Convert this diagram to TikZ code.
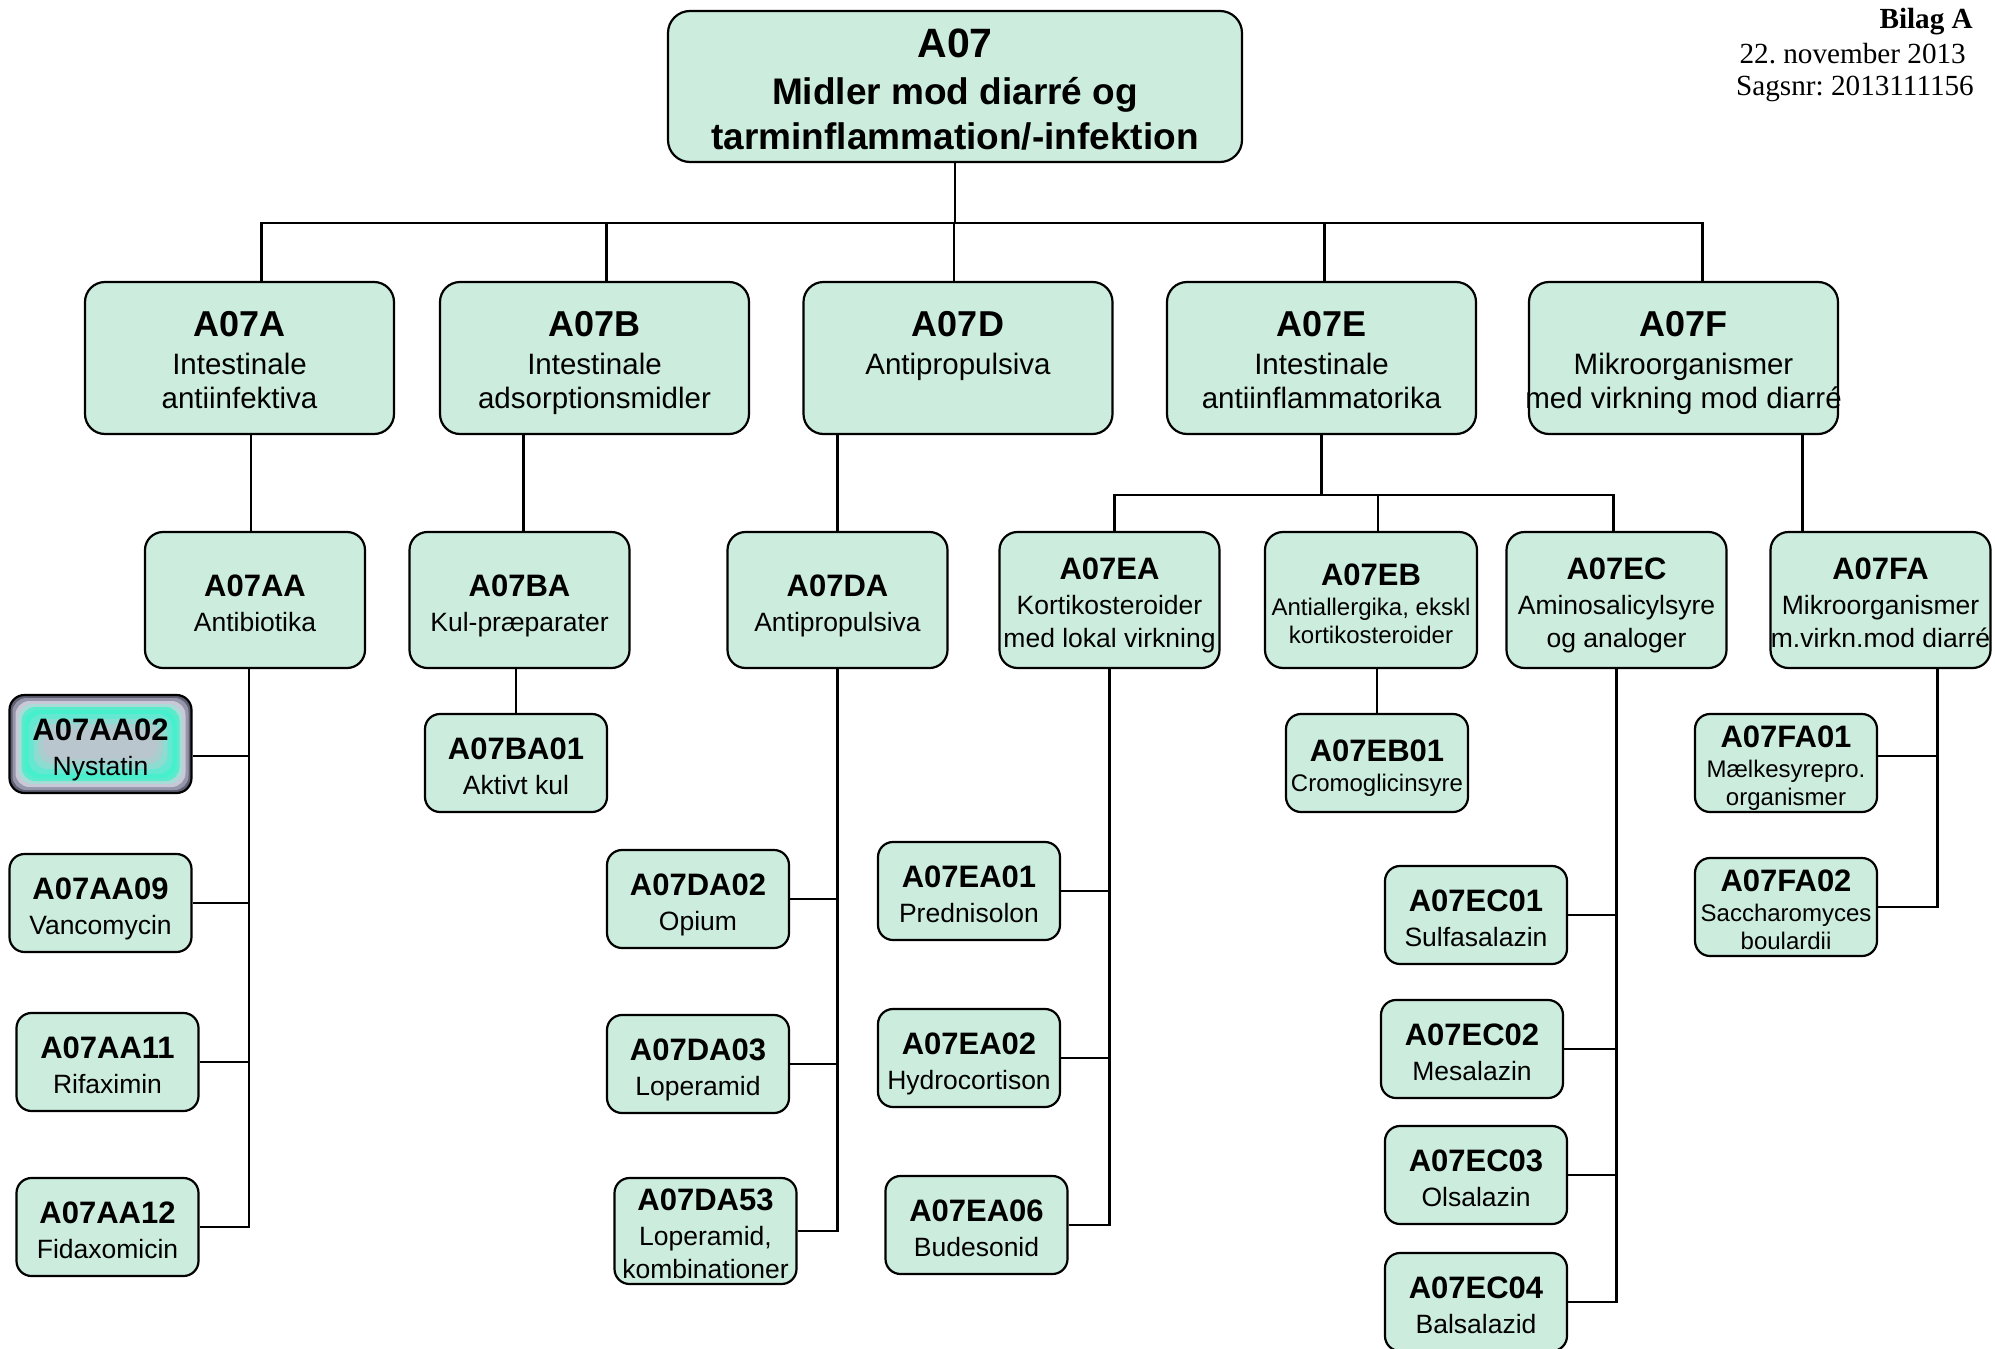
\documentclass[tikz,border=0pt]{standalone}
\usepackage{fontspec}
\setmainfont{Liberation Sans}
\newfontfamily\hdrserif{Liberation Serif}
\definecolor{boxgreen}{RGB}{204,236,221}
\definecolor{glowA}{RGB}{95,95,115}
\definecolor{glowB}{RGB}{150,150,170}
\definecolor{glowC}{RGB}{200,200,215}
\definecolor{glowD}{RGB}{170,220,215}
\definecolor{glowE}{RGB}{90,235,205}
\definecolor{glowF}{RGB}{70,240,205}
\definecolor{glowG}{RGB}{100,232,210}
\definecolor{glowH}{RGB}{140,220,210}
\definecolor{glowI}{RGB}{170,205,205}
\definecolor{glowJ}{RGB}{185,198,205}
\newcommand\rootfont{\fontsize{37}{45}\selectfont\bfseries}
\newcommand\grpfont{\fontsize{29.5}{34}\selectfont}
\newcommand\subfont{\fontsize{26.5}{33}\selectfont}
\newcommand\smallfont{\fontsize{24}{28}\selectfont}
\newcommand\hdrfont{\hdrserif\fontsize{29.2}{35}\selectfont\frenchspacing}
\newcommand\grphd[1]{{\fontsize{36}{38}\selectfont\bfseries\rule{0pt}{36pt}#1}\\[4pt]}
\newcommand\subhd[1]{{\fontsize{31}{33}\selectfont\bfseries\rule{0pt}{33pt}#1}\\[2pt]}
\newcommand\drughd[1]{{\fontsize{31}{33}\selectfont\bfseries\rule{0pt}{32.5pt}#1}\\[2pt]}
\tikzset{
  box/.style={draw, line width=2.2pt, fill=boxgreen, align=center, inner sep=0pt,
    execute at end node={\vphantom{g}}},
  rootbox/.style={box, rounded corners=22pt, minimum width=574pt, minimum height=151pt, font=\rootfont},
  grpbox/.style={box, rounded corners=20pt, minimum width=309pt, minimum height=152pt, font=\grpfont},
  subbox/.style={box, rounded corners=18pt, minimum width=220pt, minimum height=136pt, font=\subfont},
  drugbox/.style={box, rounded corners=15pt, minimum width=182pt, minimum height=98pt, font=\subfont},
  link/.style={line width=2.2pt},
  hdr/.style={inner sep=0pt, anchor=base east, font=\hdrfont}
}
\begin{document}
\begin{tikzpicture}[x=1pt,y=-1pt]
\useasboundingbox (0,0) rectangle (1995,1349);
\node[hdr] (bilag) at (1973,28) {\bfseries Bilag A};
\node[hdr] (dato) at (1966,63) {22. november 2013};
\node[hdr] (sagsnr) at (1974,95) {Sagsnr: 2013111156};

\node[rootbox] (a07) at (955,86.5) {{\fontsize{41}{45}\selectfont\rule{0pt}{41pt}A07}\\[2pt]Midler mod diarré og\\tarminflammation/-infektion};

\node[grpbox] (a07a) at (239.5,358) {\grphd{A07A}Intestinale\\antiinfektiva};
\node[grpbox] (a07b) at (594.5,358) {\grphd{A07B}Intestinale\\adsorptionsmidler};
\node[grpbox] (a07d) at (958,358) {\grphd{A07D}Antipropulsiva\\~};
\node[grpbox] (a07e) at (1321.5,358) {\grphd{A07E}Intestinale\\antiinflammatorika};
\node[grpbox] (a07f) at (1683.5,358) {\grphd{A07F}Mikroorganismer\\\makebox[300pt]{med virkning mod diarré}};

\node[subbox] (a07aa) at (255,600) {\subhd{A07AA}Antibiotika};
\node[subbox] (a07ba) at (519.5,600) {\subhd{A07BA}Kul-præparater};
\node[subbox] (a07da) at (837.5,600) {\subhd{A07DA}Antipropulsiva};
\node[subbox] (a07ea) at (1109.5,600) {\subhd{A07EA}Kortikosteroider\\med lokal virkning};
\node[subbox, minimum width=212pt, font=\smallfont] (a07eb) at (1371,600) {\subhd{A07EB}Antiallergika, ekskl\\kortikosteroider};
\node[subbox] (a07ec) at (1616.5,600) {\subhd{A07EC}Aminosalicylsyre\\og analoger};
\node[subbox] (a07fa) at (1880.5,600) {\subhd{A07FA}Mikroorganismer\\m.virkn.mod diarré};

\node[drugbox, fill=none, path picture={
  \foreach \d/\c in {0/glowA,3/glowB,6/glowC,9/glowD,12/glowE,15/glowF,19/glowG,24/glowH,29/glowI,34/glowJ}
    \fill[\c, rounded corners=14pt] ([xshift=\d pt, yshift=-\d pt]path picture bounding box.north west) rectangle ([xshift=-\d pt, yshift=\d pt]path picture bounding box.south east);
}] (aa02) at (100.5,744) {\drughd{A07AA02}Nystatin};
\node[drugbox] (aa09) at (100.5,903) {\drughd{A07AA09}Vancomycin};
\node[drugbox] (aa11) at (107.5,1062) {\drughd{A07AA11}Rifaximin};
\node[drugbox] (aa12) at (107.5,1227) {\drughd{A07AA12}Fidaxomicin};

\node[drugbox] (ba01) at (516,763) {\drughd{A07BA01}Aktivt kul};

\node[drugbox] (da02) at (698,899) {\drughd{A07DA02}Opium};
\node[drugbox] (da03) at (698,1064) {\drughd{A07DA03}Loperamid};
\node[drugbox] (da53) at (705.5,1231) {\drughd{A07DA53}Loperamid,\\kombinationer};

\node[drugbox] (ea01) at (969,891) {\drughd{A07EA01}Prednisolon};
\node[drugbox] (ea02) at (969,1058) {\drughd{A07EA02}Hydrocortison};
\node[drugbox] (ea06) at (976.5,1225) {\drughd{A07EA06}Budesonid};

\node[drugbox, font=\smallfont] (eb01) at (1377,763) {\drughd{A07EB01}Cromoglicinsyre};

\node[drugbox] (ec01) at (1476,915) {\drughd{A07EC01}Sulfasalazin};
\node[drugbox] (ec02) at (1472,1049) {\drughd{A07EC02}Mesalazin};
\node[drugbox] (ec03) at (1476,1175) {\drughd{A07EC03}Olsalazin};
\node[drugbox] (ec04) at (1476,1302) {\drughd{A07EC04}Balsalazid};

\node[drugbox, font=\smallfont] (fa01) at (1786,763) {\drughd{A07FA01}Mælkesyrepro.\\organismer};
\node[drugbox, font=\smallfont] (fa02) at (1786,907) {\drughd{A07FA02}Saccharomyces\\boulardii};

\coordinate (bus) at (955,223);
\draw[link] (a07.south) -- (bus);
\draw[link] ([xshift=22pt]a07a.north) -- ([xshift=22pt]a07a.north |- bus) -- ([xshift=19pt]a07f.north |- bus) -- ([xshift=19pt]a07f.north);
\foreach \n/\s in {a07b/12,a07d/-4,a07e/3}
  \draw[link] ([xshift=\s pt]\n.north) -- ([xshift=\s pt]\n.north |- bus);

\draw[link] ([xshift=-4pt]a07aa.north) -- ([xshift=-4pt]a07aa.north |- a07a.south);
\draw[link] ([xshift=4pt]a07ba.north) -- ([xshift=4pt]a07ba.north |- a07b.south);
\draw[link] (a07da.north) -- (a07da.north |- a07d.south);
\draw[link] ([xshift=-78pt]a07fa.north) -- ([xshift=-78pt]a07fa.north |- a07f.south);
\coordinate (ebus) at (1324,495);
\draw[link] (a07e.south) -- (a07e.south |- ebus);
\draw[link] ([xshift=5pt]a07ea.north) -- ([xshift=5pt]a07ea.north |- ebus) -- ([xshift=-3pt]a07ec.north |- ebus) -- ([xshift=-3pt]a07ec.north);
\draw[link] ([xshift=7pt]a07eb.north) -- ([xshift=7pt]a07eb.north |- ebus);

\coordinate (aa02link) at ([yshift=-12pt]aa02.east);
\draw[link] ([xshift=-6pt]a07aa.south) -- ([xshift=-6pt]a07aa.south |- aa12.east) -- (aa12.east);
\draw[link] (aa02link) -- ([xshift=-6pt]a07aa.south |- aa02link);
\foreach \n in {aa09,aa11}
  \draw[link] (\n.east) -- ([xshift=-6pt]a07aa.south |- \n.east);
\draw[link] (ba01.north) -- (ba01.north |- a07ba.south);
\draw[link] (a07da.south) -- (a07da.south |- da53.east) -- (da53.east);
\foreach \n in {da02,da03}
  \draw[link] (\n.east) -- (a07da.south |- \n.east);
\draw[link] (a07ea.south) -- (a07ea.south |- ea06.east) -- (ea06.east);
\foreach \n in {ea01,ea02}
  \draw[link] (\n.east) -- (a07ea.south |- \n.east);
\draw[link] (eb01.north) -- (eb01.north |- a07eb.south);
\draw[link] (a07ec.south) -- (a07ec.south |- ec04.east) -- (ec04.east);
\foreach \n in {ec01,ec02,ec03}
  \draw[link] (\n.east) -- (a07ec.south |- \n.east);
\coordinate (fa01link) at ([yshift=7pt]fa01.east);
\draw[link] ([xshift=57pt]a07fa.south) -- ([xshift=57pt]a07fa.south |- fa02.east) -- (fa02.east);
\draw[link] (fa01link) -- ([xshift=57pt]a07fa.south |- fa01link);
\end{tikzpicture}
\end{document}
